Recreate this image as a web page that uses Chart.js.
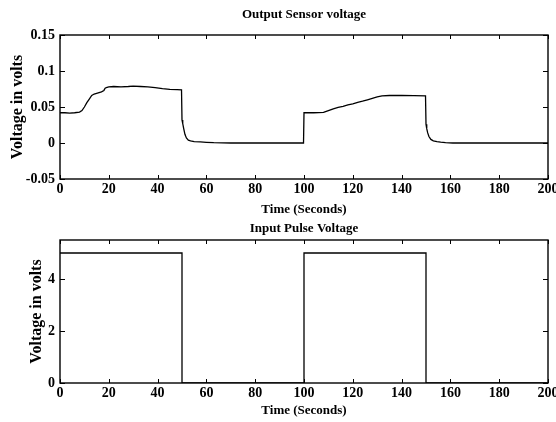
<!DOCTYPE html>
<html>
<head>
<meta charset="utf-8">
<script src="https://cdn.jsdelivr.net/npm/chart.js@4/dist/chart.umd.min.js"></script>
<style>
  html, body { margin: 0; padding: 0; background: #fff; overflow: hidden; width: 556px; height: 422px; }
  .box { position: absolute; left: 0; width: 570px; }
</style>
</head>
<body>
<div class="box" style="top:0;height:220px"><canvas id="sensorChart" width="570" height="220"></canvas></div>
<div class="box" style="top:220px;height:202px"><canvas id="pulseChart" width="570" height="202"></canvas></div>
<script>
// Output sensor voltage
const sensorTime = [0, 2, 4, 6, 8, 9, 10, 11, 12, 13, 14, 15, 16, 17, 18, 18.5, 19, 20, 22, 25, 28, 30, 33, 36, 39, 42, 45, 48, 49.8,
  50, 50.3, 50.7, 51.2, 51.8, 52.6, 53.5, 55, 57.5, 60, 63, 70, 80, 90, 99.8,
  100, 104, 108, 110, 112, 114, 116, 118, 120, 122, 124, 126, 128, 130, 132, 135, 140, 145, 149.8,
  150, 150.3, 150.7, 151.2, 152, 153, 154.5, 156, 158, 161, 170, 180, 190, 200];
const sensorVolt = [0.042, 0.042, 0.0415, 0.042, 0.043, 0.045, 0.05, 0.056, 0.061, 0.066, 0.068, 0.069, 0.07, 0.071, 0.073, 0.076, 0.077, 0.078, 0.0785, 0.078, 0.0785, 0.079, 0.0785, 0.078, 0.077, 0.0755, 0.0745, 0.074, 0.0738,
  0.032, 0.027, 0.02, 0.012, 0.007, 0.004, 0.003, 0.002, 0.0015, 0.001, 0.0005, 0, 0, 0, 0,
  0.042, 0.042, 0.0425, 0.045, 0.0475, 0.0495, 0.051, 0.053, 0.0545, 0.0565, 0.058, 0.06, 0.062, 0.064, 0.0655, 0.066, 0.066, 0.0658, 0.0655,
  0.026, 0.02, 0.014, 0.009, 0.005, 0.003, 0.002, 0.0012, 0.0006, 0, 0, 0, 0, 0];

// Input pulse voltage
const pulseTime = [0, 50, 50, 100, 100, 150, 150, 200];
const pulseVolt = [5, 5, 0, 0, 5, 5, 0, 0];

// Tick labels
const timeTicks = [0, 20, 40, 60, 80, 100, 120, 140, 160, 180, 200];
const sensorTicks = [-0.05, 0, 0.05, 0.1, 0.15];
const sensorTickLabels = ['-0.05', '0', '0.05', '0.1', '0.15'];
const pulseTicks = [0, 2, 4];
const pulseTickLabels = ['0', '2', '4'];

const FONT = 'Liberation Serif';

// MATLAB-like frame with inward tick marks on all four sides
const frameTicks = {
    id: 'frameTicks',
    afterDraw(chart) {
        const { ctx, chartArea: a, scales: { x, y } } = chart;
        ctx.save();
        ctx.strokeStyle = '#000';
        ctx.lineWidth = 1;
        ctx.beginPath();
        x.ticks.forEach(t => {
            const px = Math.round(x.getPixelForValue(t.value)) + 0.5;
            ctx.moveTo(px, a.bottom); ctx.lineTo(px, a.bottom - 4);
            ctx.moveTo(px, a.top); ctx.lineTo(px, a.top + 4);
        });
        y.ticks.forEach(t => {
            const py = Math.round(y.getPixelForValue(t.value)) + 0.5;
            ctx.moveTo(a.left, py); ctx.lineTo(a.left + 5, py);
            ctx.moveTo(a.right, py); ctx.lineTo(a.right - 5, py);
        });
        ctx.stroke();
        ctx.lineWidth = 1.4;
        ctx.strokeRect(a.left, a.top, a.right - a.left, a.bottom - a.top);
        ctx.restore();
    }
};

function makeChart(id, xs, ys, cfg) {
    const ctx = document.getElementById(id).getContext('2d');
    return new Chart(ctx, {
        type: 'line',
        data: {
            datasets: [{
                data: xs.map((t, i) => ({ x: t, y: ys[i] })),
                borderColor: '#000',
                borderWidth: 1.3,
                pointRadius: 0,
                tension: 0,
                fill: false
            }]
        },
        options: {
            responsive: false,
            animation: false,
            devicePixelRatio: 1,
            layout: { padding: { left: 0, right: 22, top: 0, bottom: 0 } },
            plugins: {
                legend: { display: false },
                tooltip: { enabled: false },
                title: {
                    display: true,
                    text: cfg.title,
                    fullSize: false,
                    color: '#000',
                    font: { family: FONT, size: 13, weight: 'bold', lineHeight: 1.2 },
                    padding: cfg.titlePad
                }
            },
            scales: {
                x: {
                    type: 'linear',
                    min: 0,
                    max: 200,
                    afterBuildTicks: s => { s.ticks = timeTicks.map(v => ({ value: v })); },
                    afterFit: s => { s.height = cfg.xHeight; },
                    grid: { display: false, drawTicks: false },
                    border: { display: false },
                    ticks: {
                        color: '#000',
                        padding: 2,
                        maxRotation: 0,
                        font: { family: FONT, size: 14, weight: 'bold' },
                        callback: v => String(v)
                    },
                    title: {
                        display: true,
                        text: 'Time (Seconds)',
                        color: '#000',
                        font: { family: FONT, size: 13, weight: 'bold', lineHeight: 1.2 },
                        padding: { top: 0, bottom: cfg.xTitlePad }
                    }
                },
                y: {
                    min: cfg.yMin,
                    max: cfg.yMax,
                    afterBuildTicks: s => { s.ticks = cfg.yTicks.map(v => ({ value: v })); },
                    afterFit: s => { s.width = 60; },
                    grid: { display: false, drawTicks: false },
                    border: { display: false },
                    ticks: {
                        color: '#000',
                        padding: 5,
                        font: { family: FONT, size: 14, weight: 'bold' },
                        callback: (v, i) => cfg.yLabels[i]
                    },
                    title: {
                        display: true,
                        text: 'Voltage in volts',
                        color: '#000',
                        font: { family: FONT, size: 16, weight: 'bold', lineHeight: 1.2 },
                        padding: { top: cfg.yTitlePad, bottom: 0 }
                    }
                }
            }
        },
        plugins: [frameTicks]
    });
}

document.addEventListener('DOMContentLoaded', function () {
    makeChart('sensorChart', sensorTime, sensorVolt, {
        title: 'Output Sensor voltage',
        titlePad: { top: 7.2, bottom: 12.2 },
        xHeight: 41,
        xTitlePad: 2.2,
        yMin: -0.05,
        yMax: 0.15,
        yTicks: sensorTicks,
        yLabels: sensorTickLabels,
        yTitlePad: 8.4
    });
    makeChart('pulseChart', pulseTime, pulseVolt, {
        title: 'Input Pulse Voltage',
        titlePad: { top: 1.2, bottom: 3.2 },
        xHeight: 39,
        xTitlePad: 3.2,
        yMin: 0,
        yMax: 5.5,
        yTicks: pulseTicks,
        yLabels: pulseTickLabels,
        yTitlePad: 27.4
    });
});
</script>
</body>
</html>
